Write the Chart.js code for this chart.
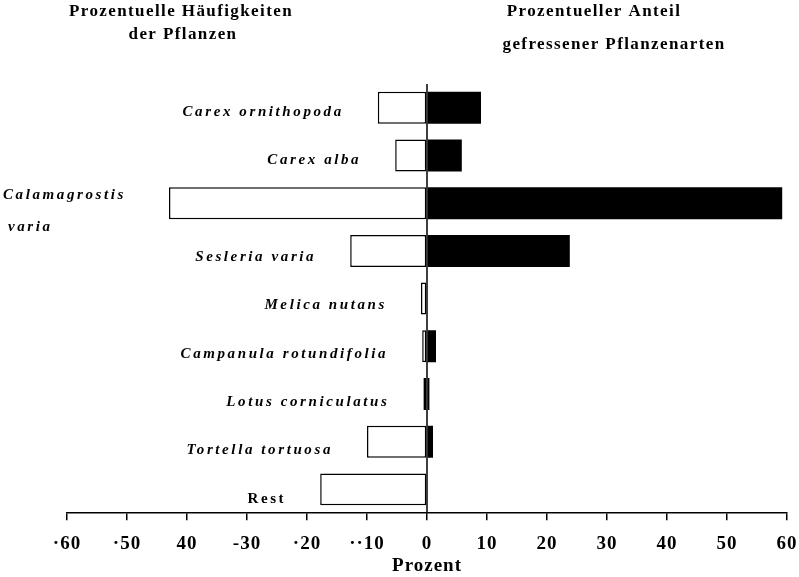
<!DOCTYPE html>
<html>
<head>
<meta charset="utf-8">
<script src="https://cdn.jsdelivr.net/npm/chart.js@4/dist/chart.umd.min.js"></script>
<style>
  body { margin: 0; background: #fff; }
  #wrap { width: 799px; height: 577px; position: relative; }
</style>
</head>
<body>
<div id="wrap"><canvas id="chart"></canvas></div>
<script>
// Data
const plants = ['Carex ornithopoda', 'Carex alba', ['Calamagrostis', 'varia'], 'Sesleria varia',
  'Melica nutans', 'Campanula rotundifolia', 'Lotus corniculatus', 'Tortella tortuosa', 'Rest'];
const haeufigkeit = [-8.2, -5.3, -43, -12.8, -1.0, -0.8, -0.6, -10, -17.8];
const gefressen = [9.0, 5.8, 59.2, 23.8, 0, 1.5, 0.4, 1.0, 0];
const tickValues = [-60, -50, -40, -30, -20, -10, 0, 10, 20, 30, 40, 50, 60];
const tickLabels = ['·60', '·50', '40', '-30', '·20', '··10', '0', '10', '20', '30', '40', '50', '60'];

const serif = '"Liberation Serif", "Times New Roman", serif';

// header titles, category labels and the zero line
const decorations = {
  id: 'decorations',
  beforeDraw(chart) {
    chart.ctx.letterSpacing = '1px';
  },
  afterDatasetsDraw(chart) {
    const { ctx, chartArea, scales } = chart;
    const x0 = scales.x.getPixelForValue(0);
    ctx.save();
    ctx.strokeStyle = '#000';
    ctx.lineWidth = 1.5;
    ctx.beginPath();
    ctx.moveTo(x0, chartArea.top);
    ctx.lineTo(x0, chartArea.bottom);
    ctx.stroke();

    ctx.fillStyle = '#000';
    ctx.textBaseline = 'middle';
    ctx.letterSpacing = '2.6px';
    const meta = chart.getDatasetMeta(0);
    plants.forEach((name, i) => {
      const y = meta.data[i].y + 4 + i * 0.7;
      const last = i === plants.length - 1;
      ctx.font = (last ? 'bold ' : 'bold italic ') + '15px ' + serif;
      if (Array.isArray(name)) {
        ctx.textAlign = 'left';
        ctx.fillText(name[0], 3, y - 13);
        ctx.fillText(name[1], 8, y + 19);
      } else {
        ctx.textAlign = 'right';
        ctx.fillText(name, scales.x.getPixelForValue(haeufigkeit[i]) - 34, y);
      }
    });

    ctx.font = 'bold 17px ' + serif;
    ctx.letterSpacing = '1.4px';
    ctx.textAlign = 'center';
    ctx.fillText('Prozentuelle Häufigkeiten', 181, 12);
    ctx.fillText('der Pflanzen', 183, 35);
    ctx.fillText('Prozentueller Anteil', 594, 12);
    ctx.fillText('gefressener Pflanzenarten', 614, 45);
    ctx.restore();
  }
};

new Chart(document.getElementById('chart'), {
  type: 'bar',
  data: {
    labels: plants,
    datasets: [{
      label: 'Häufigkeit',
      data: haeufigkeit,
      backgroundColor: '#fff',
      borderColor: '#000',
      borderWidth: 1.5,
      borderSkipped: false
    }, {
      label: 'gefressen',
      data: gefressen,
      backgroundColor: '#000',
      borderColor: '#000',
      borderWidth: 0
    }]
  },
  options: {
    indexAxis: 'y',
    responsive: true,
    maintainAspectRatio: false,
    animation: false,
    layout: { padding: { left: 67, right: 12, top: 84, bottom: 0 } },
    datasets: { bar: { categoryPercentage: 1, barPercentage: 0.67 } },
    plugins: { legend: { display: false }, tooltip: { enabled: false } },
    scales: {
      y: { display: false, stacked: true },
      x: {
        stacked: true,
        min: -60,
        max: 60,
        afterBuildTicks(scale) {
          scale.ticks = tickValues.map(v => ({ value: v }));
        },
        afterFit(scale) {
          // keep the plot edges where the layout padding puts them
          scale.paddingLeft = 0;
          scale.paddingRight = 0;
        },
        ticks: {
          autoSkip: false,
          maxRotation: 0,
          padding: 14,
          color: '#000',
          font: { family: serif, size: 19, weight: 'bold', lineHeight: 1 },
          callback: (value, i) => tickLabels[i]
        },
        grid: { drawOnChartArea: false, drawTicks: true, tickLength: 7, color: '#000', lineWidth: 1.5 },
        border: { display: true, color: '#000', width: 1.5 },
        title: {
          display: true,
          text: 'Prozent',
          color: '#000',
          padding: { top: -13, bottom: 0 },
          font: { family: serif, size: 19, weight: 'bold' }
        }
      }
    }
  },
  plugins: [decorations]
});
</script>
</body>
</html>
